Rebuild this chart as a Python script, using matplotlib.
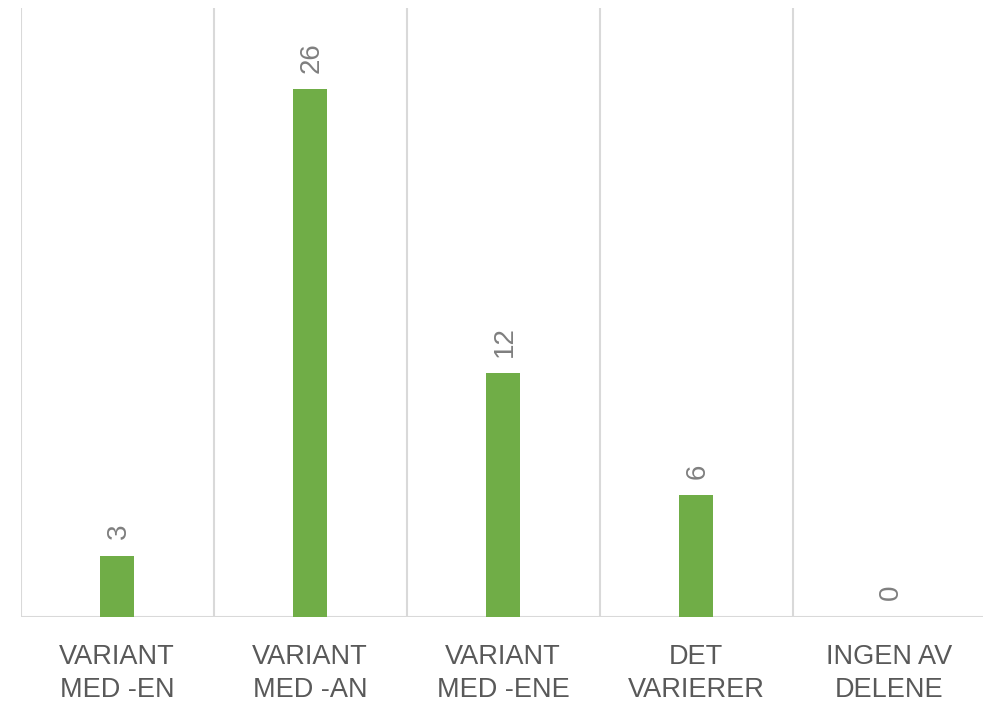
import matplotlib
matplotlib.use("Agg")
import matplotlib.pyplot as plt

categories = ["VARIANT\nMED -EN", "VARIANT\nMED -AN", "VARIANT\nMED -ENE", "DET\nVARIERER", "INGEN AV\nDELENE"]
values = [3, 26, 12, 6, 0]

plt.rcParams['font.family'] = ['Liberation Sans', 'DejaVu Sans']

fig = plt.figure(figsize=(9.83, 7.02), dpi=100)
ax = fig.add_axes([20.5/983, 85/702, 965/983, 609/702])

x = list(range(len(categories)))
ax.bar(x, values, width=0.18, color="#70AD47", zorder=3)

ax.set_xlim(-0.5, len(categories) - 0.5)
ax.set_ylim(0, 30)

for b in [i - 0.5 for i in range(len(categories) + 1)]:
    ax.axvline(b, color="#D9D9D9", lw=1.5, zorder=1)
ax.axhline(0, color="#D9D9D9", lw=1.5, zorder=2)

for s in ax.spines.values():
    s.set_visible(False)
ax.set_yticks([])
ax.set_xticks(x)
ax.set_xticklabels(categories, fontsize=19.5, color="#595959", linespacing=1.33)
ax.tick_params(axis='x', length=0, pad=19.5)

for xi, v in zip(x, values):
    ax.annotate(str(v), (xi, v), xytext=(1.5, 12), textcoords="offset points",
                rotation=90, ha="center", va="bottom", fontsize=20, color="#7F7F7F")

fig.savefig("out.png", dpi=100)
